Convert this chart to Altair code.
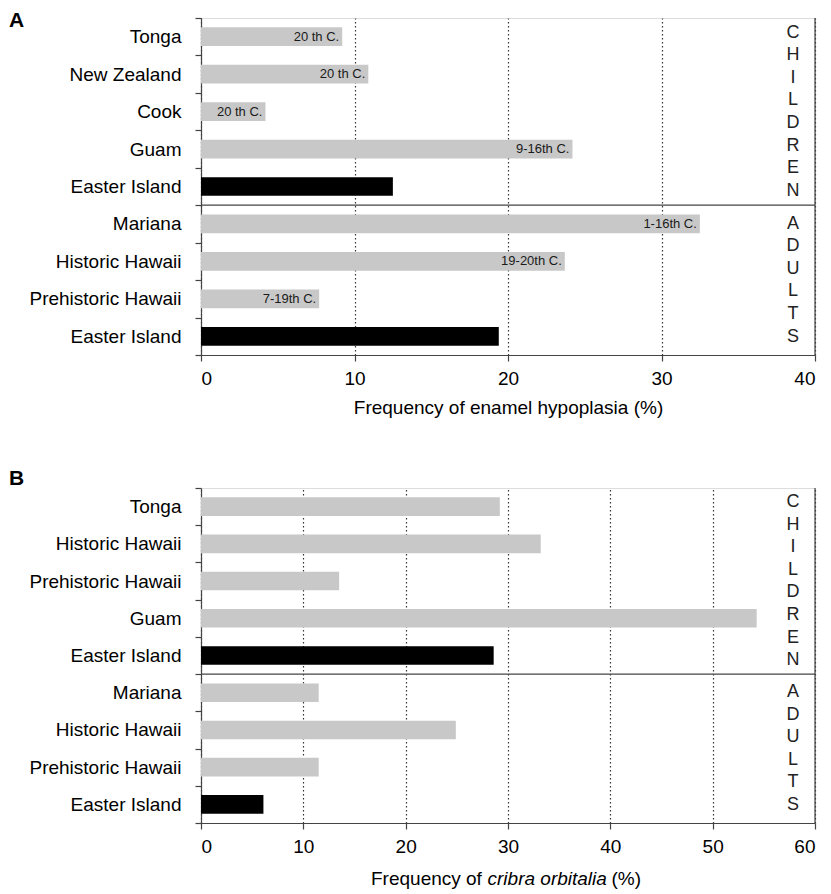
import altair as alt
import pandas as pd

# ---------------- data ----------------
groups = ["C", "C", "C", "C", "C", "A", "A", "A", "A"]
group_words = ["CHILDREN", "ADULTS"]

a_names = ["Tonga", "New Zealand", "Cook", "Guam", "Easter Island",
           "Mariana", "Historic Hawaii", "Prehistoric Hawaii", "Easter Island"]
a_values = [9.2, 10.9, 4.2, 24.2, 12.5, 32.5, 23.7, 7.7, 19.4]
a_periods = ["20 th C.", "20 th C.", "20 th C.", "9-16th C.", "",
             "1-16th C.", "19-20th C.", "7-19th C.", ""]
a_ticks = [0, 10, 20, 30, 40]

b_names = ["Tonga", "Historic Hawaii", "Prehistoric Hawaii", "Guam", "Easter Island",
           "Mariana", "Historic Hawaii", "Prehistoric Hawaii", "Easter Island"]
b_values = [29.2, 33.2, 13.5, 54.3, 28.6, 11.5, 24.9, 11.5, 6.1]
b_periods = ["", "", "", "", "", "", "", "", ""]
b_ticks = [0, 10, 20, 30, 40, 50, 60]

FONT = "Liberation Sans"
AXC = "#444444"
W = 614
LH = 22.6


def panel(names, values, periods, ticks, letter, height, title_a=None, title_b=None):
    keys = [f"{n}|{g}" for n, g in zip(names, groups)]
    df = pd.DataFrame({
        "key": keys,
        "value": values,
        "period": periods,
        "kind": ["easter" if n == "Easter Island" else "other" for n in names],
    })
    xmax = ticks[-1]
    yenc = alt.Y(
        "key:N", sort=keys,
        scale=alt.Scale(paddingInner=0, paddingOuter=0),
        axis=alt.Axis(
            title=None,
            labelExpr="isValid(datum.value) ? split(datum.value, '|')[0] : ''",
            tickBand="extent",
            labelFontSize=19, labelColor="black", labelFont=FONT, tickSize=6,
            labelPadding=14, domainColor=AXC, tickColor=AXC, grid=False,
            domainWidth=1.2, tickWidth=1.2,
        ),
    )
    xaxis = alt.Axis(
        values=ticks, grid=True, gridDash=[1.5, 2.5], gridColor="#333333", gridWidth=1.2,
        tickSize=6, labelFontSize=19, labelColor="black", labelFont=FONT,
        labelPadding=8, domainColor=AXC, tickColor=AXC, domainWidth=1.2, tickWidth=1.2,
        title=title_a if title_a else None,
        titleFontSize=19, titleFontWeight="normal", titleFont=FONT, titleColor="black",
        titlePadding=10,
    )
    xenc = alt.X("value:Q", scale=alt.Scale(domain=[0, xmax], nice=False), axis=xaxis)

    base = alt.Chart(df)
    bars = base.mark_bar(height={"band": 0.5}).encode(
        x=xenc, y=yenc,
        color=alt.Color("kind:N", scale=alt.Scale(domain=["easter", "other"],
                                                   range=["#000000", "#c8c8c8"]),
                        legend=None),
    )
    labels = base.mark_text(align="right", baseline="middle", dx=-3, fontSize=13,
                            font=FONT, color="#1a1a1a").encode(
        x="value:Q", y=alt.Y("key:N", sort=keys), text="period:N")

    sep = alt.Chart(pd.DataFrame({"key": [keys[5]]})).mark_rule(
        color=AXC, strokeWidth=1.2).encode(
        y=alt.Y("key:N", sort=keys, bandPosition=0))
    right = alt.Chart(pd.DataFrame({"v": [xmax]})).mark_rule(
        color=AXC, strokeWidth=1.2).encode(x="v:Q")

    def word(key, txt, bp):
        return alt.Chart(pd.DataFrame({"key": [key]})).mark_text(
            fontSize=18, font=FONT, color="#222", lineHeight=LH, baseline="middle",
            align="center", dy=-(len(txt) - 1) * LH / 2).encode(
            y=alt.Y("key:N", sort=keys, bandPosition=bp),
            x=alt.value(W - 22), text=alt.value(list(txt)))

    word1 = word(keys[2], group_words[0], 0.5)
    word2 = word(keys[7], group_words[1], 0)

    let = alt.Chart(pd.DataFrame({"t": [letter]})).mark_text(
        fontSize=21, fontWeight="bold", font=FONT, align="left", baseline="alphabetic",
        color="black").encode(
        x=alt.value(-192), y=alt.value(9 if letter == "A" else -3), text="t:N")

    layers = [bars, labels, sep, right, word1, word2, let]
    if title_b:
        pieces = pd.DataFrame({
            "t": title_b,
            "x": [27.45, 28.0, 43.0],
        })
        p1 = alt.Chart(pieces.iloc[[0]]).mark_text(
            align="right", baseline="middle", fontSize=19, font=FONT, color="black").encode(
            x="x:Q", y=alt.value(height + 56), text="t:N")
        p2 = alt.Chart(pieces.iloc[[1]]).mark_text(
            align="left", baseline="middle", fontSize=19, font=FONT, fontStyle="italic",
            color="black").encode(
            x="x:Q", y=alt.value(height + 56), text="t:N")
        p3 = alt.Chart(pieces.iloc[[2]]).mark_text(
            align="right", baseline="middle", fontSize=19, font=FONT, color="black").encode(
            x="x:Q", y=alt.value(height + 56), text="t:N")
        layers += [p1, p2, p3]
    return alt.layer(*layers).properties(width=W, height=height)


pa = panel(a_names, a_values, a_periods, a_ticks, "A", 337,
           title_a="Frequency of enamel hypoplasia (%)")
pb = panel(b_names, b_values, b_periods, b_ticks, "B", 335,
           title_b=["Frequency of", "cribra orbitalia", "(%)"])

chart = alt.vconcat(pa, pb, spacing=49).properties(padding=0).configure_view(
    stroke=None).configure(font=FONT)

chart.save("out.html", embed_options={"renderer": "svg", "actions": False})
